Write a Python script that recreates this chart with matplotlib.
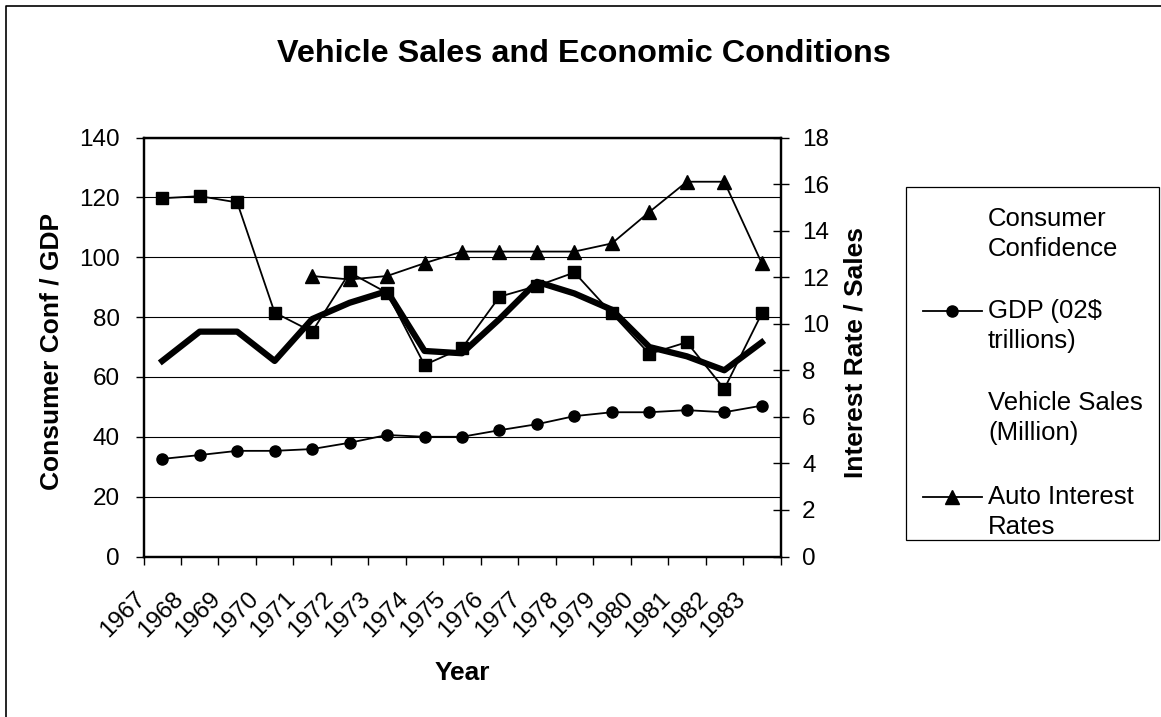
import numpy as np
import matplotlib.pyplot as plt
from matplotlib.lines import Line2D
from matplotlib.patches import Rectangle
from matplotlib.transforms import ScaledTranslation

plt.rcParams['font.family'] = ['Liberation Sans', 'DejaVu Sans']

years = [str(y) for y in range(1967, 1984)]
consumer_conf = [119.7, 120.4, 118.3, 81.5, 75.1, 94.9, 88.1, 64.0, 69.6,
                 86.8, 90.4, 94.9, 81.2, 67.7, 71.6, 56.0, 81.2]
gdp = [32.6, 33.9, 35.3, 35.3, 35.9, 38.0, 40.6, 40.0, 40.0,
       42.2, 44.2, 46.9, 48.2, 48.2, 48.9, 48.2, 50.4]
vehicle_sales = [8.4, 9.66, 9.66, 8.4, 10.2, 10.9, 11.4, 8.83, 8.73,
                 10.2, 11.8, 11.3, 10.6, 9.0, 8.6, 8.0, 9.2]
interest_rates = [np.nan, np.nan, np.nan, np.nan, 12.05, 11.9, 12.05, 12.6, 13.1,
                  13.1, 13.1, 13.1, 13.45, 14.8, 16.1, 16.1, 12.6]
legend_labels = ['Consumer\nConfidence', 'GDP (02\\$\ntrillions)',
                 'Vehicle Sales\n(Million)', 'Auto Interest\nRates']

W, H = 1161, 717
fig = plt.figure(figsize=(W / 100, H / 100), dpi=100)
ax = fig.add_axes([143.5 / W, 1 - 556.5 / H, 637 / W, 419 / H])
ax2 = ax.twinx()

x = np.arange(len(years))

# left axis series
ax.plot(x, consumer_conf, color='black', lw=1.3, marker='s', ms=8, zorder=3)
ax.plot(x, gdp, color='black', lw=1.3, marker='o', ms=8, zorder=3)
# right axis series
ax2.plot(x, vehicle_sales, color='black', lw=4.5, solid_joinstyle='round')
ax2.plot(x, interest_rates, color='black', lw=1.3, marker='^', ms=10)

ax.set_xlim(-0.5, len(years) - 0.5)
ax.set_ylim(0, 140)
ax2.set_ylim(0, 18)
ax.set_yticks(np.arange(0, 141, 20))
ax2.set_yticks(np.arange(0, 19, 2))

ax.grid(axis='y', color='black', lw=0.8)
ax.set_axisbelow(True)

for sp in ax.spines.values():
    sp.set_linewidth(1.6)
for sp in ax2.spines.values():
    sp.set_linewidth(1.6)

# category boundaries get tick marks, category centers get labels
ax.set_xticks(np.arange(-0.5, len(years), 1))
ax.set_xticklabels([])
ax.set_xticks(x, minor=True)
ax.set_xticklabels(years, minor=True, rotation=45, ha='right', va='top', fontsize=17.5)
ax.tick_params(axis='x', which='major', length=6, width=1, direction='out')
ax.tick_params(axis='x', which='minor', length=0, pad=22.5)
off = ScaledTranslation(-0.12, 0, fig.dpi_scale_trans)
for lab in ax.get_xticklabels(minor=True):
    lab.set_transform(lab.get_transform() + off)

ax.tick_params(axis='y', length=6, width=1, direction='out', pad=11, labelsize=17.5)
ax2.tick_params(axis='y', length=12, width=1, direction='inout', pad=9.5, labelsize=17.5)

ax.set_xlabel('Year', fontsize=19, fontweight='bold', va='center')
ax.xaxis.set_label_coords(0.5, -0.278)
ax.set_ylabel('Consumer Conf / GDP', fontsize=19, fontweight='bold', va='center')
ax.yaxis.set_label_coords(-0.145, 0.49)
ax2.set_ylabel('Interest Rate / Sales', fontsize=19, fontweight='bold', va='center')
ax2.yaxis.set_label_coords(1.117, 0.488)

fig.text(584 / W, 1 - 61.7 / H, 'Vehicle Sales and Economic Conditions',
         ha='center', va='baseline', fontsize=23.3, fontweight='bold')

# legend box, drawn by hand to match the layout
fig.add_artist(Rectangle((905.7 / W, 1 - 540 / H), (1159 - 905.7) / W, (540 - 186.7) / H,
                         transform=fig.transFigure, fill=False, edgecolor='black', lw=0.9))
rows = [219, 311, 403, 497]
keys = [None, 'o', None, '^']
for lbl, yy, mk in zip(legend_labels, rows, keys):
    fig.text(988 / W, 1 - (yy + 15) / H, lbl, ha='left', va='center',
             fontsize=18.5, linespacing=1.3)
    if mk is not None:
        fig.add_artist(Line2D([923 / W, 982 / W], [1 - yy / H, 1 - yy / H],
                              transform=fig.transFigure, color='black', lw=1.3))
        fig.add_artist(Line2D([952 / W], [1 - yy / H], transform=fig.transFigure,
                              color='black', marker=mk, ms=8 if mk == 'o' else 10))

# outer chart frame
fig.add_artist(Line2D([6 / W, 6 / W, 1.0], [0.0, 1 - 6 / H, 1 - 6 / H],
                      transform=fig.transFigure, color='black', lw=1.2))

fig.savefig('out.png', dpi=100)
